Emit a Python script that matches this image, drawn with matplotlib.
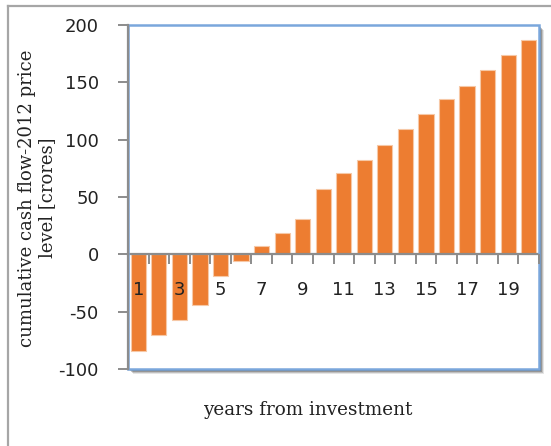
import matplotlib.pyplot as plt
from matplotlib.lines import Line2D
from matplotlib.patches import Rectangle

plt.rcParams["axes.unicode_minus"] = False

# cumulative cash flow by year, crores at 2012 prices
YEARS = list(range(1, 21))
CASH_FLOW = [-84, -70.6, -57.3, -44.2, -19, -6, 7.1, 18.9, 30.5, 57,
             70.6, 82.2, 95.6, 109, 122, 135.4, 147, 160.4, 173.5, 187]
TICK_YEARS = [1, 3, 5, 7, 9, 11, 13, 15, 17, 19]

BAR = "#ED7D31"
GRAY = "#8c8c8c"
BLUE = "#7aa7dc"
W, H = 551, 446

fig = plt.figure(figsize=(W / 100, H / 100), dpi=100)

# outer chart frame (left and top edges only visible)
fig.add_artist(Line2D([8 / W, 8 / W], [0, 1 - 6 / H], color="#a6a6a6", lw=1.6))
fig.add_artist(Line2D([8 / W, 1], [1 - 6 / H, 1 - 6 / H], color="#a6a6a6", lw=1.6))

x0, x1, y0, y1 = 128, 539, 25, 369
ax = fig.add_axes([x0 / W, 1 - y1 / H, (x1 - x0) / W, (y1 - y0) / H])

# soft drop shadow on the plot area
for i, a in enumerate([0.10, 0.16, 0.22, 0.28]):
    off = 5 - i
    fig.add_artist(Rectangle(((x0 + off) / W, 1 - (y1 + off) / H),
                             (x1 - x0) / W, (y1 - y0) / H,
                             transform=fig.transFigure, facecolor="black",
                             edgecolor="none", alpha=a, zorder=-1))

ax.bar(YEARS, CASH_FLOW, width=0.74, color=BAR, edgecolor="#f6c8a6",
       linewidth=0.8, zorder=1)

ax.set_xlim(0.5, 20.5)
ax.set_ylim(-100, 200)
ax.set_yticks([-100, -50, 0, 50, 100, 150, 200])

ax.spines["bottom"].set_position(("data", 0))
ax.spines["bottom"].set_color(GRAY)
ax.spines["bottom"].set_linewidth(1.6)
ax.spines["left"].set_color(GRAY)
ax.spines["left"].set_linewidth(1.6)
ax.spines["left"].set_zorder(4)
for s in ("top", "right"):
    ax.spines[s].set_visible(False)
ax.add_patch(Rectangle((0, 0), 1, 1, transform=ax.transAxes, facecolor="none",
                       edgecolor=BLUE, lw=1.8, zorder=3, clip_on=False))

ax.set_xticks(TICK_YEARS)
ax.set_xticklabels([str(y) for y in TICK_YEARS])
ax.set_xticks([i + 0.5 for i in range(0, 21)], minor=True)
ax.xaxis.set_zorder(5)
ax.tick_params(axis="x", which="major", length=0, pad=19, labelsize=13,
               labelcolor="#222222")
ax.tick_params(axis="x", which="minor", length=7, width=1.4, color=GRAY,
               direction="out")
ax.tick_params(axis="y", length=7, width=1.4, color=GRAY, pad=14,
               labelsize=13, labelcolor="#222222")

fig.text(308 / W, 1 - 410 / H, "years from investment", family="DejaVu Serif",
         fontsize=13.2, ha="center", va="center", color="#222222")
fig.text(37 / W, 1 - 198 / H, "cumulative cash flow-2012 price\nlevel [crores]",
         family="DejaVu Serif", fontsize=13, rotation=90, ha="center",
         va="center", multialignment="center", linespacing=1.1, color="#222222")

fig.savefig("out.png", dpi=100)
